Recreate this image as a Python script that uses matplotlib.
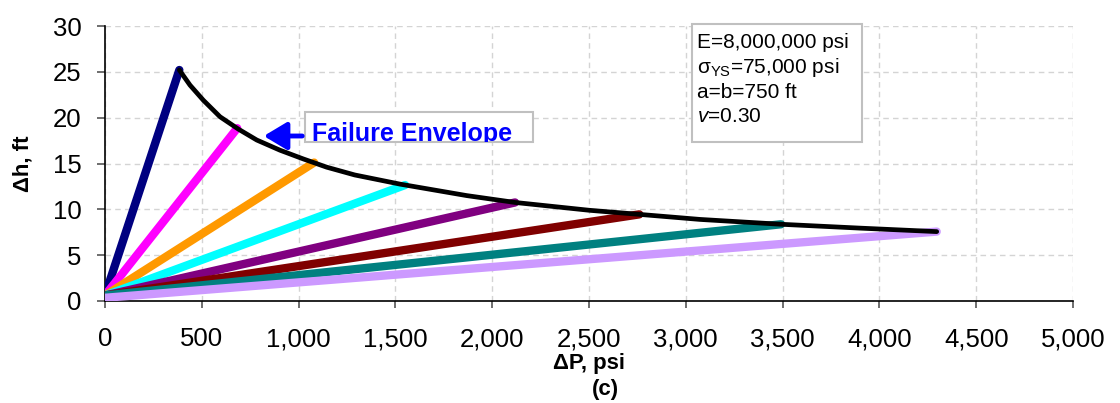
import matplotlib
matplotlib.use("Agg")
import matplotlib.pyplot as plt
from matplotlib.patches import Rectangle, FancyArrowPatch
from matplotlib.ticker import FuncFormatter

plt.rcParams['font.family'] = ['Liberation Sans', 'DejaVu Sans']
plt.rcParams['mathtext.fontset'] = 'custom'
plt.rcParams['mathtext.rm'] = 'Liberation Sans'
plt.rcParams['mathtext.it'] = 'Liberation Sans:italic'
plt.rcParams['mathtext.bf'] = 'Liberation Sans:bold'

# Loading paths: each runs from the origin up to its failure point
path_colors = ['#000080', '#FF00FF', '#FF9900', '#00FFFF',
               '#800080', '#800000', '#008080', '#CC99FF']
start_dp = [0, 0, 0, 0, 0, 0, 0, 0]
start_dh = [0.6, 0.6, 0.6, 0.6, 0.6, 0.6, 0.6, 0.35]
end_dp = [384, 683, 1080, 1550, 2118, 2760, 3492, 4296]
end_dh = [25.2, 18.85, 15.1, 12.65, 10.75, 9.45, 8.37, 7.57]

# Failure envelope
env_dp = [384, 439, 508, 594, 689, 784, 904, 1024, 1145, 1290, 1524,
          1868, 2118, 2500, 2760, 3073, 3492, 3900, 4296]
env_dh = [25.2, 23.55, 21.9, 20.1, 18.75, 17.56, 16.45, 15.5, 14.6, 13.75, 12.75,
          11.5, 10.75, 9.9, 9.45, 8.9, 8.37, 7.95, 7.57]

x_ticks = [0, 500, 1000, 1500, 2000, 2500, 3000, 3500, 4000, 4500, 5000]
y_ticks = [0, 5, 10, 15, 20, 25, 30]

W, H = 1120, 403
fig = plt.figure(figsize=(W / 100, H / 100), dpi=100)
ax = fig.add_axes([105 / W, 1 - 301 / H, (1073 - 105) / W, (301 - 26) / H])

for c, x0, y0, x1, y1 in zip(path_colors, start_dp, start_dh, end_dp, end_dh):
    ax.plot([x0, x1], [y0, y1], color=c, lw=6.0, solid_capstyle='round', zorder=3)

ax.plot(env_dp, env_dh, color='black', lw=3.4, solid_capstyle='round',
        solid_joinstyle='round', zorder=4)

ax.set_xlim(0, 5000)
ax.set_ylim(0, 30)
ax.set_xticks(x_ticks)
ax.set_yticks(y_ticks)
ax.xaxis.set_major_formatter(FuncFormatter(lambda v, p: f"{int(v):,}"))
ax.grid(True, color='#d4d4d4', linestyle=(0, (4, 3)), lw=1.0, zorder=0)
ax.set_axisbelow(True)
for s in ('top', 'right'):
    ax.spines[s].set_visible(False)
for s in ('left', 'bottom'):
    ax.spines[s].set_linewidth(1.2)
ax.tick_params(axis='x', length=5, width=1.2, color='#555555', pad=14, labelsize=18.5)
ax.tick_params(axis='y', length=6, width=1.2, color='#555555', pad=11, labelsize=18.5)

ax.set_xlabel('ΔP, psi', fontsize=16, fontweight='bold', labelpad=1)
ax.set_ylabel('Δh, ft', fontsize=16, fontweight='bold', labelpad=14)
fig.text(605 / W, 1 - 389 / H, '(c)', fontsize=16, fontweight='bold',
         ha='center', va='center')

# Material properties box
fig.patches.append(Rectangle((692 / W, 1 - 141.7 / H), (862 - 692) / W, (141.7 - 24) / H,
                             transform=fig.transFigure, facecolor='white',
                             edgecolor='#c0c0c0', lw=1.5, zorder=5))
props = ['E=8,000,000 psi', r'σ$_{\mathrm{YS}}$=75,000 psi', 'a=b=750 ft', r'$\mathit{v}$=0.30']
for i, t in enumerate(props):
    fig.text(697 / W, 1 - (43 + 24.5 * i) / H, t, fontsize=15, ha='left',
             va='center', zorder=6)

# Failure envelope callout
box = Rectangle((305 / W, 1 - 141.7 / H), (533 - 305) / W, (141.7 - 111.7) / H,
                transform=fig.transFigure, facecolor='white', edgecolor='#c0c0c0',
                lw=1.5, zorder=5)
fig.patches.append(box)
lab = fig.text(312 / W, 1 - 140.5 / H, 'Failure Envelope', fontsize=18, fontweight='bold',
               color='#0000FF', ha='left', va='baseline', zorder=6)
lab.set_clip_path(box)
arr = FancyArrowPatch((305 / W, 1 - 136 / H), (261 / W, 1 - 136 / H),
                      transform=fig.transFigure, arrowstyle='-|>,head_length=1.0,head_width=0.6',
                      mutation_scale=14, color='#0000FF', lw=3.5, zorder=6)
fig.patches.append(arr)

fig.savefig('out.png', dpi=100)
